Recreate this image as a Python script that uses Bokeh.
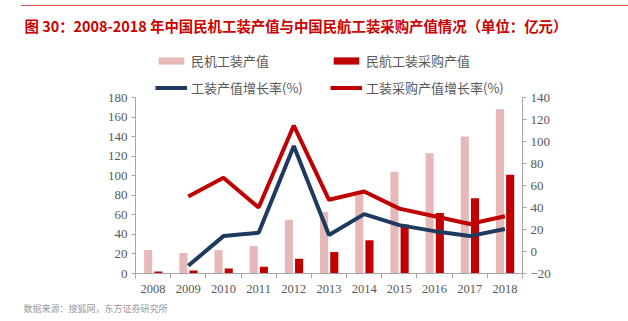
from bokeh.plotting import figure
from bokeh.models import (Range1d, LinearAxis, FixedTicker, Legend, LegendItem,
                          Title, ColumnDataSource, InlineStyleSheet)
from bokeh.transform import dodge
from bokeh.embed import file_html
from bokeh.resources import INLINE

nan = float("nan")
years = ["2008", "2009", "2010", "2011", "2012", "2013", "2014", "2015", "2016", "2017", "2018"]
civil_output = [24, 21, 24, 28, 55, 63, 81, 104, 123, 140, 168]          # 民机工装产值
procurement = [2, 3, 5, 7, 15, 22, 34, 50, 62, 77, 101]                   # 民航工装采购产值
output_growth = [nan, -13, 14, 17, 96, 15, 34, 24, 18.5, 14, 20.5]       # 工装产值增长率(%)
procurement_growth = [nan, 50, 67, 40, 114.5, 47, 54.5, 39, 32, 25, 32]  # 工装采购产值增长率(%)
left_ticks = list(range(0, 181, 20))
right_ticks = list(range(-20, 141, 20))
series_names = ["民机工装产值", "民航工装采购产值", "工装产值增长率(%)", "工装采购产值增长率(%)"]
title_text = "图 30：2008-2018 年中国民机工装产值与中国民航工装采购产值情况（单位：亿元）"
source_text = "数据来源：搜狐网，东方证券研究所"

PINK = "#E6B9B8"
DRED = "#C00000"
NAVY = "#1F3A5F"
AXIS = "#A6A6A6"
TXT = "#595959"

# layout (pixels)
H = 321
TOP = 40          # frame top (legend lives inside the frame, above the axes' extent)
AX_TOP = 97       # where the top tick sits
AX_BOT = 273      # frame bottom
ext = (AX_BOT - TOP) / (AX_BOT - AX_TOP)
left_lo, left_hi = left_ticks[0], left_ticks[-1]
right_lo, right_hi = right_ticks[0], right_ticks[-1]

xs = [i + 0.5 for i in range(len(years))]
src = ColumnDataSource(dict(x=xs, civil=civil_output, proc=procurement,
                            og=output_growth, pg=procurement_growth))

rule_css = InlineStyleSheet(css=""":host::after { content: ""; position: absolute; top: 5px; left: 21px;
  right: 0px; height: 1px; background: #D9534F; z-index: 10; pointer-events: none; }""")

p = figure(width=628, height=H, output_backend="svg", toolbar_location=None,
           x_range=Range1d(0, len(years)),
           y_range=Range1d(left_lo, left_lo + (left_hi - left_lo) * ext),
           x_axis_type=None, y_axis_type=None,
           min_border_left=135, min_border_right=106, min_border_top=TOP,
           min_border_bottom=H - AX_BOT, stylesheets=[rule_css])
p.outline_line_color = None
p.extra_y_ranges = {"rate": Range1d(right_lo, right_lo + (right_hi - right_lo) * ext)}

pink = p.vbar(x=dodge("x", -0.14, range=p.x_range), top="civil", width=0.23, source=src,
              fill_color=PINK, line_color=None)
red = p.vbar(x=dodge("x", 0.15, range=p.x_range), top="proc", width=0.23, source=src,
             fill_color=DRED, line_color=None)
blue_l = p.line(x="x", y="og", source=src, y_range_name="rate", line_color=NAVY, line_width=4)
red_l = p.line(x="x", y="pg", source=src, y_range_name="rate", line_color=DRED, line_width=4)


def style_axis(ax):
    ax.axis_line_color = AXIS
    ax.major_tick_line_color = AXIS
    ax.minor_tick_line_color = None
    ax.major_tick_in = 0
    ax.major_tick_out = 4
    ax.major_label_text_font = "Liberation Serif"
    ax.major_label_text_font_size = "13px"
    ax.major_label_text_color = TXT
    ax.major_label_standoff = 4


yl = LinearAxis(ticker=FixedTicker(ticks=left_ticks), bounds=(left_lo, left_hi))
style_axis(yl)
p.add_layout(yl, "left")

yr = LinearAxis(y_range_name="rate", ticker=FixedTicker(ticks=right_ticks), bounds=(right_lo, right_hi))
style_axis(yr)
p.add_layout(yr, "right")

xa = LinearAxis(ticker=FixedTicker(ticks=xs, minor_ticks=list(range(len(years) + 1))),
                major_label_overrides={x: y for x, y in zip(xs, years)})
style_axis(xa)
xa.major_tick_line_color = None
xa.major_tick_out = 0
xa.minor_tick_line_color = AXIS
xa.minor_tick_in = 0
xa.minor_tick_out = 5
xa.major_label_text_font_size = "12.5px"
xa.major_label_standoff = 6
p.add_layout(xa, "below")


def col_legend(items, vx):
    return Legend(items=items, orientation="vertical", location=(vx, 176),
                  glyph_width=32, glyph_height=9, label_height=16, spacing=8,
                  padding=0, margin=0, label_standoff=4,
                  label_text_font="Noto Sans CJK SC", label_text_font_size="13px",
                  label_text_color=TXT, background_fill_alpha=0, border_line_color=None)


p.add_layout(col_legend([LegendItem(label=series_names[0], renderers=[pink]),
                         LegendItem(label=series_names[2], renderers=[blue_l])], 20), "center")
p.add_layout(col_legend([LegendItem(label=series_names[1], renderers=[red]),
                         LegendItem(label=series_names[3], renderers=[red_l])], 195), "center")

p.add_layout(Title(text=title_text, align="left", offset=-111, text_font="Noto Sans CJK SC",
                   text_font_style="bold", text_font_size="14.4px", text_color="#CC0000"), "above")
p.add_layout(Title(text=source_text, align="left", offset=-112, standoff=9, text_font="Noto Sans CJK SC",
                   text_font_style="normal", text_font_size="9px", text_color="#999999"), "below")

open("out.html", "w").write(file_html(p, INLINE))
